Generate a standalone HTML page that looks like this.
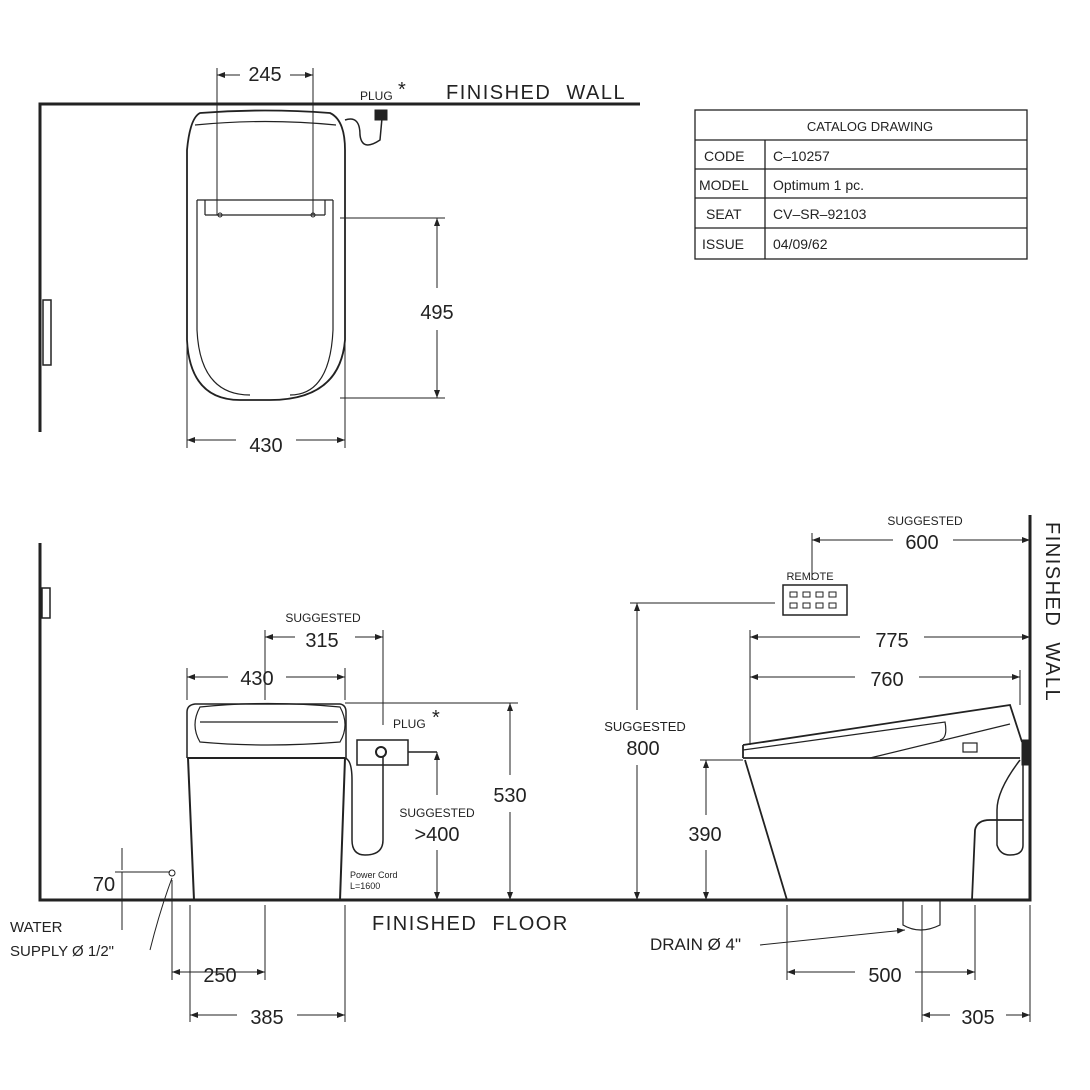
<!DOCTYPE html>
<html><head><style>html,body{margin:0;padding:0;background:#fff}svg{display:block}</style></head>
<body>
<svg width="1090" height="1090" viewBox="0 0 1090 1090" xmlns="http://www.w3.org/2000/svg" font-family="Liberation Sans, sans-serif" fill="none" stroke="#222">
<defs><marker id="a" markerWidth="8" markerHeight="6" refX="8" refY="3" orient="auto-start-reverse"><path d="M0,0 L8,3 L0,6 z" fill="#222" stroke="none"/></marker></defs>
<!-- TOP VIEW -->
<path d="M40,432 V104 H640" stroke-width="3"/>
<rect x="43" y="300" width="8" height="65" stroke-width="1.5"/>
<path d="M200,113 Q265,108 330,113 Q345,120 345,150 L345,340 Q340,400 270,400 L240,400 Q190,400 187,340 L187,150 Q190,118 200,113 Z" stroke-width="1.8"/>
<path d="M195,125 Q265,118 336,125 M197,200 L333,200 M205,215 L325,215 M205,215 V200 M325,215 V200 M197,200 L197,330 Q200,395 250,395 M333,200 L333,330 Q330,395 290,395" stroke-width="1.2"/>
<circle cx="220" cy="215" r="2"/><circle cx="313" cy="215" r="2"/>
<path d="M345,120 Q360,115 360,135 Q362,152 380,140 L382,118" stroke-width="1.5"/>
<rect x="375" y="110" width="12" height="10" fill="#222"/>
<text x="360" y="100" font-size="12" fill="#222" stroke="none">PLUG</text><text x="398" y="96" font-size="20" fill="#222" stroke="none">*</text>
<text x="446" y="99" font-size="20" fill="#222" stroke="none" letter-spacing="1.5" word-spacing="8">FINISHED WALL</text>
<path d="M217,68 V215 M313,68 V215" stroke-width="1"/>
<path d="M217,75 H313" stroke-width="1" marker-start="url(#a)" marker-end="url(#a)"/>
<rect x="240" y="66" width="50" height="18" fill="#fff" stroke="none"/>
<text x="265" y="81" font-size="20" fill="#222" stroke="none" text-anchor="middle">245</text>
<path d="M340,218 H445 M340,398 H445" stroke-width="1"/>
<path d="M437,218 V288 M437,330 V398" stroke-width="1" marker-start="url(#a)" marker-end="url(#a)"/>
<text x="437" y="319" font-size="20" fill="#222" stroke="none" text-anchor="middle">495</text>
<path d="M187,340 V448 M345,340 V448" stroke-width="1"/>
<path d="M187,440 H345" stroke-width="1" marker-start="url(#a)" marker-end="url(#a)"/>
<rect x="236" y="432" width="60" height="20" fill="#fff" stroke="none"/>
<text x="266" y="452" font-size="20" fill="#222" stroke="none" text-anchor="middle">430</text>
<!-- TABLE -->
<g stroke-width="1.3" font-size="14">
<rect x="695" y="110" width="332" height="149" fill="none"/>
<path d="M695,140 H1027 M695,169 H1027 M695,198 H1027 M695,228 H1027 M765,140 V259"/>
<g stroke="none" fill="#222"><text x="870" y="131" text-anchor="middle" font-size="13">CATALOG  DRAWING</text>
<text x="704" y="161">CODE</text><text x="773" y="161">C–10257</text>
<text x="699" y="190">MODEL</text><text x="773" y="190">Optimum  1  pc.</text>
<text x="706" y="219">SEAT</text><text x="773" y="219">CV–SR–92103</text>
<text x="702" y="249">ISSUE</text><text x="773" y="249">04/09/62</text></g>
</g>
<!-- BOTTOM -->
<path d="M40,543 V900 H1030 V515" stroke-width="3"/>
<rect x="42" y="588" width="8" height="30" stroke-width="1.5"/>
<text x="372" y="930" font-size="20" fill="#222" stroke="none" letter-spacing="1.5" word-spacing="8">FINISHED FLOOR</text>
<text x="1046" y="522" font-size="20" fill="#222" stroke="none" letter-spacing="1.5" word-spacing="8" transform="rotate(90 1046 522)">FINISHED WALL</text>
<!-- front toilet -->
<path d="M188,758 L194,900 M345,758 L340,900 M187,758 H345" stroke-width="2"/>
<path d="M187,758 V712 Q187,705 195,704 H340 Q346,705 346,712 V758" stroke-width="1.5"/>
<path d="M200,707 Q266,700 340,707 Q350,725 340,742 Q266,748 200,742 Q190,725 200,707 Z M200,722 H338" stroke-width="1.2"/>
<rect x="357" y="740" width="51" height="25" stroke-width="1.5"/>
<circle cx="381" cy="752" r="5" stroke-width="2"/>
<path d="M345,758 Q352,760 352,780 V840 Q352,855 365,855 Q383,855 383,840 V757 M408,752 H437" stroke-width="1.5"/>
<text x="350" y="878" font-size="9" fill="#222" stroke="none">Power  Cord</text><text x="350" y="889" font-size="9" fill="#222" stroke="none">L=1600</text>
<text x="393" y="728" font-size="12" fill="#222" stroke="none">PLUG</text><text x="432" y="724" font-size="20" fill="#222" stroke="none">*</text>
<path d="M187,668 V700 M345,668 V700" stroke-width="1"/>
<path d="M187,677 H345" stroke-width="1" marker-start="url(#a)" marker-end="url(#a)"/>
<rect x="228" y="668" width="58" height="20" fill="#fff" stroke="none"/>
<text x="257" y="685" font-size="20" fill="#222" stroke="none" text-anchor="middle">430</text>
<path d="M265,630 V700 M383,630 V725" stroke-width="1"/>
<path d="M265,637 H383" stroke-width="1" marker-start="url(#a)" marker-end="url(#a)"/>
<rect x="295" y="628" width="60" height="20" fill="#fff" stroke="none"/>
<text x="322" y="647" font-size="20" fill="#222" stroke="none" text-anchor="middle">315</text>
<text x="323" y="622" font-size="12" fill="#222" stroke="none" text-anchor="middle">SUGGESTED</text>
<path d="M345,703 H518" stroke-width="1"/>
<path d="M510,703 V775 M510,812 V900" stroke-width="1" marker-start="url(#a)" marker-end="url(#a)"/>
<text x="510" y="802" font-size="20" fill="#222" stroke="none" text-anchor="middle">530</text>
<path d="M437,752 V795 M437,850 V900" stroke-width="1" marker-start="url(#a)" marker-end="url(#a)"/>
<text x="437" y="817" font-size="12" fill="#222" stroke="none" text-anchor="middle">SUGGESTED</text>
<text x="437" y="841" font-size="20" fill="#222" stroke="none" text-anchor="middle">&gt;400</text>
<path d="M122,848 V870 M122,900 V930 M115,872 H170 M115,900 H130" stroke-width="1"/>
<path d="M122,872 V900" stroke-width="1"/>
<text x="104" y="891" font-size="20" fill="#222" stroke="none" text-anchor="middle">70</text>
<circle cx="172" cy="873" r="3" stroke-width="1"/>
<path d="M172,878 Q160,910 150,950" stroke-width="1"/>
<text x="10" y="932" font-size="15" fill="#222" stroke="none">WATER</text>
<text x="10" y="956" font-size="15" fill="#222" stroke="none">SUPPLY Ø 1/2"</text>
<path d="M172,880 V980 M265,905 V980 M190,905 V1022 M345,905 V1022" stroke-width="1"/>
<path d="M172,972 H265" stroke-width="1" marker-start="url(#a)" marker-end="url(#a)"/>
<text x="220" y="982" font-size="20" fill="#222" stroke="none" text-anchor="middle">250</text>
<path d="M190,1015 H345" stroke-width="1" marker-start="url(#a)" marker-end="url(#a)"/>
<rect x="237" y="1005" width="60" height="20" fill="#fff" stroke="none"/>
<text x="267" y="1024" font-size="20" fill="#222" stroke="none" text-anchor="middle">385</text>
<!-- side toilet -->
<path d="M743,745 L1010,705 L1022,742 M743,745 V758 M743,758 H1020 M745,760 L787,900 M972,900 L975,830 Q977,820 990,820 H1023" stroke-width="1.8"/>
<path d="M870,758 L1010,724 M743,750 L945,722 Q948,738 940,740" stroke-width="1.2"/>
<rect x="963" y="743" width="14" height="9" stroke-width="1.2"/>
<path d="M1020,760 Q997,790 997,810 V845 Q1000,855 1010,855 Q1023,855 1023,845 V760" stroke-width="1.5"/>
<rect x="1022" y="740" width="8" height="25" fill="#222"/>
<path d="M903,900 V925 Q920,935 940,925 V900" stroke-width="1.2"/>
<path d="M750,630 V745 M1020,670 V705" stroke-width="1"/>
<path d="M750,637 H1030" stroke-width="1" marker-start="url(#a)" marker-end="url(#a)"/>
<rect x="860" y="627" width="64" height="22" fill="#fff" stroke="none"/>
<text x="892" y="647" font-size="20" fill="#222" stroke="none" text-anchor="middle">775</text>
<path d="M750,677 H1020" stroke-width="1" marker-start="url(#a)" marker-end="url(#a)"/>
<rect x="855" y="667" width="64" height="22" fill="#fff" stroke="none"/>
<text x="887" y="686" font-size="20" fill="#222" stroke="none" text-anchor="middle">760</text>
<path d="M812,533 V580" stroke-width="1"/>
<path d="M812,540 H1030" stroke-width="1" marker-start="url(#a)" marker-end="url(#a)"/>
<rect x="893" y="530" width="60" height="22" fill="#fff" stroke="none"/>
<text x="922" y="549" font-size="20" fill="#222" stroke="none" text-anchor="middle">600</text>
<text x="925" y="525" font-size="12" fill="#222" stroke="none" text-anchor="middle">SUGGESTED</text>
<text x="810" y="580" font-size="11" fill="#222" stroke="none" text-anchor="middle">REMOTE</text>
<rect x="783" y="585" width="64" height="30" stroke-width="1.5"/>
<g stroke-width="1"><rect x="790" y="592" width="7" height="5"/><rect x="803" y="592" width="7" height="5"/><rect x="816" y="592" width="7" height="5"/><rect x="829" y="592" width="7" height="5"/><rect x="790" y="603" width="7" height="5"/><rect x="803" y="603" width="7" height="5"/><rect x="816" y="603" width="7" height="5"/><rect x="829" y="603" width="7" height="5"/></g>
<path d="M630,603 H775" stroke-width="1"/>
<path d="M637,603 V710 M637,765 V900" stroke-width="1" marker-start="url(#a)" marker-end="url(#a)"/>
<text x="645" y="731" font-size="13" fill="#222" stroke="none" text-anchor="middle">SUGGESTED</text>
<text x="643" y="755" font-size="20" fill="#222" stroke="none" text-anchor="middle">800</text>
<path d="M700,760 H743" stroke-width="1"/>
<path d="M706,760 V815 M706,850 V900" stroke-width="1" marker-start="url(#a)" marker-end="url(#a)"/>
<text x="705" y="841" font-size="20" fill="#222" stroke="none" text-anchor="middle">390</text>
<text x="650" y="950" font-size="17" fill="#222" stroke="none">DRAIN Ø 4"</text>
<path d="M760,945 L905,930" stroke-width="1" marker-end="url(#a)"/>
<path d="M787,905 V980 M922,905 V1022 M975,905 V980 M1030,905 V1022" stroke-width="1"/>
<path d="M787,972 H975" stroke-width="1" marker-start="url(#a)" marker-end="url(#a)"/>
<rect x="855" y="962" width="60" height="22" fill="#fff" stroke="none"/>
<text x="885" y="982" font-size="20" fill="#222" stroke="none" text-anchor="middle">500</text>
<path d="M922,1015 H1030" stroke-width="1" marker-start="url(#a)" marker-end="url(#a)"/>
<rect x="950" y="1005" width="56" height="22" fill="#fff" stroke="none"/>
<text x="978" y="1024" font-size="20" fill="#222" stroke="none" text-anchor="middle">305</text>
</svg>
</body></html>
